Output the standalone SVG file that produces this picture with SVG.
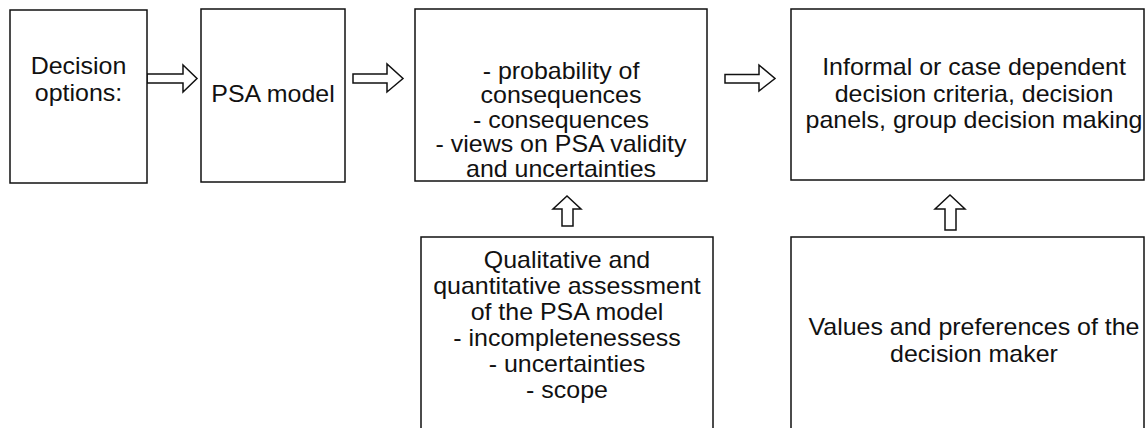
<svg xmlns="http://www.w3.org/2000/svg" width="1145" height="428" viewBox="0 0 1145 428">
<style>
.box{fill:#fff;stroke:#111;stroke-width:1.5}
.arr{fill:#fff;stroke:#111;stroke-width:1.5;stroke-linejoin:miter}
text{font-family:"Liberation Sans",Arial,sans-serif;font-size:24px;fill:#111;text-anchor:middle}
</style>
<rect width="1145" height="428" fill="#fff"/>
<g id="connectors">
<polygon class="arr" points="147,74 183,74 183,65 197,78.5 183,92 183,83 147,83"/>
<polygon class="arr" points="353,74 387,74 387,64 403,78.5 387,92 387,83 353,83"/>
<polygon class="arr" points="725,74.5 759,74.5 759,65 775,78.5 759,91 759,83 725,83"/>
<polygon class="arr" points="562,226 562,209 553,209 567,196 581,209 573,209 573,226"/>
<polygon class="arr" points="945,230 945,209 935,209 950,195 965,209 956,209 956,230"/>
</g>
<g id="decision-options">
<rect class="box" x="10" y="10" width="137" height="173"/>
<g transform="translate(78.5 0) scale(1.04 1)">
<text x="0" y="74">Decision</text>
<text x="0" y="101">options:</text>
</g>
</g>
<g id="psa-model">
<rect class="box" x="201" y="9" width="144" height="173"/>
<g transform="translate(273 0) scale(1.04 1)">
<text x="0" y="102">PSA model</text>
</g>
</g>
<g id="results">
<rect class="box" x="415" y="9" width="292" height="172"/>
<g transform="translate(561 0) scale(1.04 1)">
<text x="0" y="79">- probability of</text>
<text x="0" y="103.5">consequences</text>
<text x="0" y="128">- consequences</text>
<text x="0" y="152.5">- views on PSA validity</text>
<text x="0" y="177">and uncertainties</text>
</g>
</g>
<g id="decision-criteria">
<rect class="box" x="791" y="9" width="353" height="171"/>
<g transform="translate(974 0) scale(1.04 1)">
<text x="0" y="75">Informal or case dependent</text>
<text x="0" y="102">decision criteria, decision</text>
<text x="0" y="128">panels, group decision making</text>
</g>
</g>
<g id="assessment">
<rect class="box" x="421" y="237" width="292" height="210"/>
<g transform="translate(567 0) scale(1.04 1)">
<text x="0" y="268">Qualitative and</text>
<text x="0" y="294">quantitative assessment</text>
<text x="0" y="320">of the PSA model</text>
<text x="0" y="346">- incompletenessess</text>
<text x="0" y="372">- uncertainties</text>
<text x="0" y="398">- scope</text>
</g>
</g>
<g id="values">
<rect class="box" x="791" y="237" width="353" height="210"/>
<g transform="translate(974 0) scale(1.04 1)">
<text x="0" y="335">Values and preferences of the</text>
<text x="0" y="362">decision maker</text>
</g>
</g>
</svg>
